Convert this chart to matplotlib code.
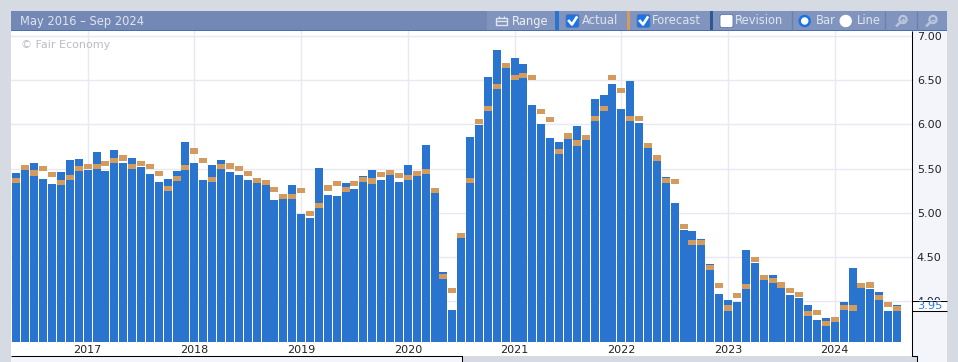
import matplotlib

matplotlib.use("Agg")
import matplotlib.pyplot as plt
from matplotlib.lines import Line2D
from matplotlib.patches import Circle, FancyBboxPatch, Rectangle

W, H = 958, 362

actual = [
    5.45, 5.48, 5.56, 5.38, 5.33, 5.46, 5.60, 5.61, 5.48, 5.69,
    5.47, 5.71, 5.56, 5.62, 5.52, 5.44, 5.35, 5.38, 5.47, 5.80,
    5.56, 5.37, 5.54, 5.60, 5.46, 5.43, 5.37, 5.34, 5.31, 5.14,
    5.21, 5.31, 4.99, 4.94, 5.51, 5.20, 5.19, 5.34, 5.27, 5.42,
    5.48, 5.37, 5.44, 5.35, 5.54, 5.42, 5.77, 5.22, 4.33, 3.90,
    4.71, 5.86, 5.99, 6.54, 6.84, 6.65, 6.75, 6.69, 6.22, 6.01,
    5.85, 5.80, 5.85, 5.98, 5.88, 6.29, 6.33, 6.46, 6.18, 6.49,
    6.02, 5.73, 5.60, 5.40, 5.11, 4.80, 4.79, 4.70, 4.42, 4.08,
    4.01, 3.99, 4.58, 4.43, 4.25, 4.29, 4.16, 4.07, 4.03, 3.95,
    3.78, 3.81, 3.77, 3.99, 4.37, 4.15, 4.13, 4.10, 3.89, 3.95,
]
forecast = [
    5.37, 5.51, 5.45, 5.50, 5.43, 5.34, 5.40, 5.50, 5.52, 5.52,
    5.56, 5.59, 5.62, 5.52, 5.56, 5.52, 5.44, 5.27, 5.39, 5.51,
    5.70, 5.59, 5.38, 5.52, 5.53, 5.50, 5.44, 5.37, 5.34, 5.26,
    5.18, 5.18, 5.25, 4.99, 5.08, 5.28, 5.33, 5.26, 5.33, 5.38,
    5.36, 5.43, 5.46, 5.42, 5.40, 5.44, 5.47, 5.25, 4.28, 4.12,
    4.74, 5.37, 6.03, 6.18, 6.43, 6.67, 6.53, 6.56, 6.53, 6.15,
    6.06, 5.69, 5.87, 5.79, 5.85, 6.07, 6.18, 6.53, 6.39, 6.07,
    6.07, 5.76, 5.62, 5.37, 5.35, 4.84, 4.66, 4.66, 4.38, 4.17,
    3.92, 4.06, 4.16, 4.47, 4.27, 4.23, 4.18, 4.12, 4.07, 3.86,
    3.87, 3.74, 3.79, 3.93, 3.92, 4.17, 4.18, 4.04, 3.96, 3.91,
]
year_positions = [8, 20, 32, 44, 56, 68, 80, 92]
year_labels = ["2017", "2018", "2019", "2020", "2021", "2022", "2023", "2024"]
y_ticks = [4.0, 4.5, 5.0, 5.5, 6.0, 6.5, 7.0]
latest_label = "3.95"
date_range = "May 2016 – Sep 2024"

BAR_BLUE = "#2874cf"
FORECAST_TAN = "#d39b5d"
FRAME_GRAY = "#d6dae3"
PANEL = "#f3f5fa"
GRID = "#e8e9f2"
HEADER_DARK = "#7388b5"
HEADER_LIGHT = "#8094bd"
HEADER_TEXT = "#dfe4ef"
CHECK_BLUE = "#1a73e8"


def fx(x):
    return x / W


def fy(y):
    return 1 - y / H


fig = plt.figure(figsize=(W / 100, H / 100), dpi=100, facecolor=FRAME_GRAY)


def box(x0, y0, x1, y1, color, zorder=-1):
    fig.add_artist(Rectangle((fx(x0), fy(y1)), (x1 - x0) / W, (y1 - y0) / H,
                             transform=fig.transFigure, facecolor=color,
                             edgecolor="none", zorder=zorder))


def line(xs, ys, color="black", lw=0.75, zorder=6):
    fig.add_artist(Line2D([fx(x) for x in xs], [fy(y) for y in ys], color=color,
                          linewidth=lw, zorder=zorder, solid_capstyle="butt",
                          transform=fig.transFigure))


def label(x, y, text, color=HEADER_TEXT, size=8.3, ha="left", zorder=7):
    fig.text(fx(x), fy(y), text, color=color, fontsize=size, ha=ha, va="center", zorder=zorder)


def circle_px(cx, cy, r, face, edge, lw=1.0):
    # pixel sized circle, so it stays round in a non square figure
    c = Circle((cx, H - cy), r, transform=None, facecolor=face, edgecolor=edge, linewidth=lw, zorder=7)
    fig.add_artist(c)


# frame, panels
box(11, 31, 912, 356, "white")
box(912, 31, 947, 356, PANEL)
box(917, 356, 947, 362, PANEL)
box(11, 356, 462, 362, PANEL)

# main chart
ax = fig.add_axes([fx(11), fy(342), 901 / W, 311 / H], zorder=1)
x = list(range(len(actual)))
base = 3.534
ax.bar(x, [v - base for v in actual], bottom=base, width=0.9, color=BAR_BLUE, zorder=2)
ax.bar(x, [0.058] * len(forecast), bottom=[v - 0.029 for v in forecast], width=0.9,
       color=FORECAST_TAN, zorder=3)
ax.set_xlim(-0.618, 100.68)
ax.set_ylim(base, 7.06)
ax.set_xticks(year_positions, year_labels)
ax.set_yticks(y_ticks, [f"{v:.2f}" for v in y_ticks])
ax.yaxis.tick_right()
ax.tick_params(axis="x", length=0, pad=2.5, labelsize=8, labelcolor="#222222")
ax.tick_params(axis="y", length=0, pad=3.5, labelsize=8, labelcolor="#222222")
ax.grid(color=GRID, linewidth=1)
ax.set_axisbelow(True)
ax.patch.set_alpha(0)
for spine in ax.spines.values():
    spine.set_visible(False)

label(21, 44.5, "© Fair Economy", color="#bcbcbc", size=8)

# panel outlines
line([11, 462, 462], [356, 356, 362])
line([912, 912, 917, 917], [31, 356, 356, 362])

# latest value box
box(912, 300, 947, 311, "white", zorder=5)
line([912, 947], [300.5, 300.5])
line([912, 947], [311, 311])
label(917, 306, latest_label, color="#2a78d6", size=8.2)

# header strip
box(11, 11, 947, 30, HEADER_DARK, zorder=4)
box(487, 11, 947, 30, HEADER_LIGHT, zorder=4)
box(11, 30, 947, 31, "#4a6fb0", zorder=4)
label(20, 21, date_range)

box(555, 11, 559, 30, BAR_BLUE, zorder=5)
box(627, 11, 630, 30, FORECAST_TAN, zorder=5)
box(710, 11, 713, 30, "#2f5796", zorder=5)
for sep in [792, 885, 917]:
    line([sep, sep], [11, 30], color="#6a80b0", lw=1, zorder=5)

# range button with a small calendar
line([496, 507, 507, 496, 496], [18, 18, 25, 25, 18], color=HEADER_TEXT, lw=1, zorder=7)
line([496, 507], [20.5, 20.5], color=HEADER_TEXT, lw=1, zorder=7)
line([499, 499], [16, 18], color=HEADER_TEXT, lw=1, zorder=7)
line([504, 504], [16, 18], color=HEADER_TEXT, lw=1, zorder=7)
label(512, 21, "Range", color="#eef1f7")


def checkbox(x0, checked):
    face = CHECK_BLUE if checked else "white"
    fig.add_artist(FancyBboxPatch((x0, H - 27.5), 13, 13, boxstyle="round,pad=0,rounding_size=2",
                                  transform=None, facecolor=face, edgecolor="#5f78ac",
                                  linewidth=0.6, zorder=7))
    if checked:
        fig.add_artist(Line2D([x0 + 3, x0 + 6, x0 + 10.5], [H - 21, H - 24.5, H - 17.5],
                              color="white", linewidth=1.9, transform=None, zorder=8))


checkbox(566, True)
label(582, 21, "Actual")
checkbox(637, True)
label(652, 21, "Forecast")
checkbox(720, False)
label(735, 21, "Revision")

circle_px(804.7, 21, 5, "white", CHECK_BLUE, lw=1.8)
label(816, 21, "Bar")
circle_px(845.7, 21, 5.5, "white", "white")
label(857, 21, "Line")

# zoom icons
for cx, plus in [(903, True), (933, False)]:
    circle_px(cx, 19.5, 3.6, "none", "#b9c5dd", lw=1.6)
    line([cx - 3, cx - 7], [22.5, 26.5], color="#b9c5dd", lw=1.8, zorder=7)
    line([cx - 2, cx + 2], [19.5, 19.5], color="#b9c5dd", lw=1, zorder=7)
    if plus:
        line([cx, cx], [17.5, 21.5], color="#b9c5dd", lw=1, zorder=7)

fig.savefig("out.png", dpi=100, facecolor=fig.get_facecolor())
